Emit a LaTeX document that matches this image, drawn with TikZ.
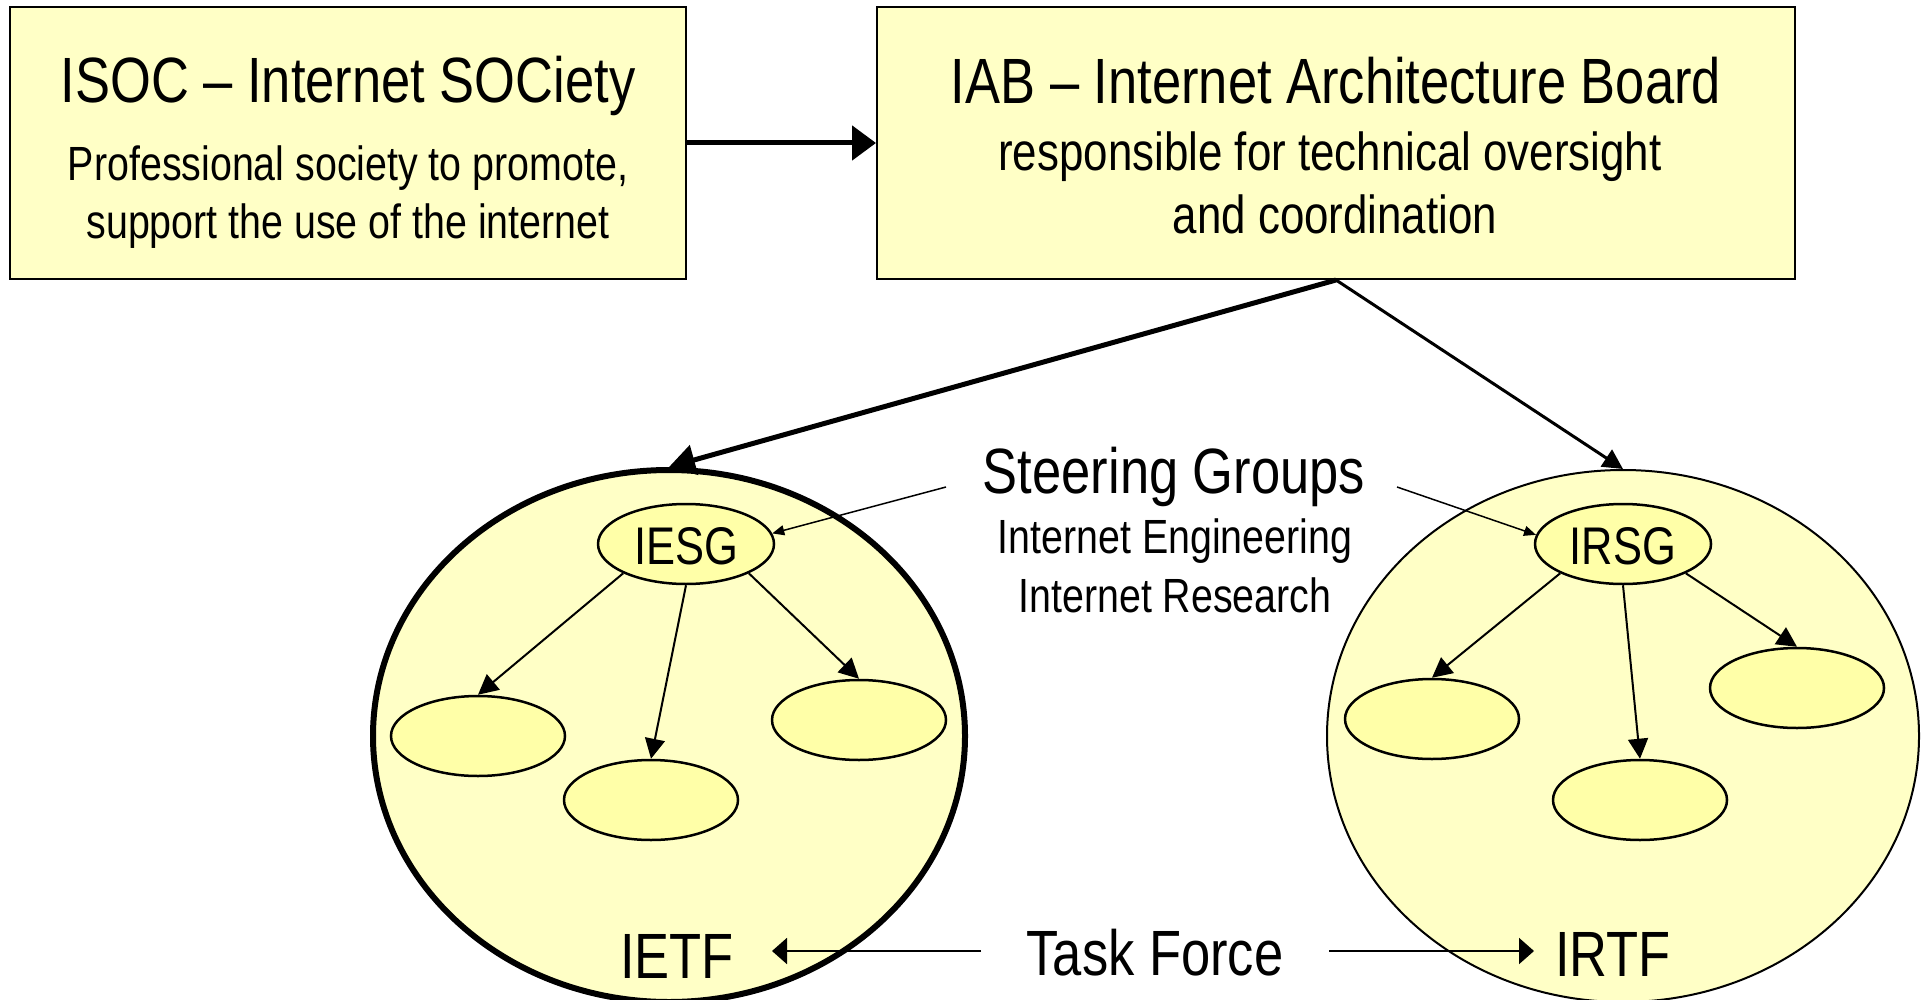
\documentclass[tikz,border=0pt]{standalone}
\usepackage{fontspec}
\setmainfont{Liberation Sans}[FakeStretch=0.82]
\usetikzlibrary{arrows.meta,shapes.geometric}
\definecolor{boxfill}{HTML}{FFFFC6}
\definecolor{subfill}{HTML}{FFFFA8}
\newcommand{\ftitle}{\fontsize{64pt}{70pt}\selectfont}
\newcommand{\fsub}{\fontsize{48pt}{54pt}\selectfont}
\newcommand{\fsubb}{\fontsize{53.5pt}{58pt}\selectfont}
\newcommand{\fsg}{\fontsize{53pt}{58pt}\selectfont}
\begin{document}
\begin{tikzpicture}[x=1pt,y=-1pt,
  orgbox/.style={draw, line width=2pt, fill=boxfill, rectangle, inner sep=0pt},
  bigcirc/.style={draw, ellipse, fill=boxfill, inner sep=0pt},
  grp/.style={draw, ellipse, line width=2.5pt, fill=subfill, inner sep=0pt, minimum width=174pt, minimum height=80pt},
  lbl/.style={anchor=base, inner sep=0pt},
  inarrow/.style={line width=2pt, -{Triangle[length=20pt,width=20pt]}},
  sgarrow/.style={line width=1.5pt, -{Triangle[length=12pt,width=10pt]}},
  tfarrow/.style={line width=2pt, -{Triangle[length=15pt,width=26pt]}}
]
\useasboundingbox (0,0) rectangle (1921,1000);
\fill[white] (0,0) rectangle (1921,1000);

% top boxes
\node[orgbox, minimum width=676pt, minimum height=272pt] (isoc) at (348,143) {};
\node[orgbox, minimum width=918pt, minimum height=272pt] (iab) at (1336,143) {};
\node[lbl, font=\ftitle] (isoct) at (348,103) {ISOC -- Internet SOCiety};
\node[lbl, font=\fsub] (isoc1) at (348,181) {Professional society to promote,};
\node[lbl, font=\fsub] (isoc2) at (348,239) {support the use of the internet};
\node[lbl, font=\ftitle] (iabt) at (1336,104) {IAB -- Internet Architecture Board};
\node[lbl, font=\fsubb] (iab1) at (1330,171) {responsible for technical oversight};
\node[lbl, font=\fsubb] (iab2) at (1335,234) {and coordination};

\draw[line width=5pt, -{Triangle[length=24pt,width=34pt]}] (isoc.east) -- (iab.west);

% big circles
\node[bigcirc, line width=6pt, minimum width=592pt, minimum height=532pt] (ietf) at (669,736) {};
\node[bigcirc, line width=2pt, minimum width=592pt, minimum height=532pt] (irtf) at (1623,736) {};

\draw[line width=5pt, -{Triangle[length=26pt,width=30pt]}] (iab.south) -- (ietf.north);
\draw[line width=3pt, -{Triangle[length=20pt,width=20pt]}] (iab.south) -- (irtf.north);

% steering groups
\node[grp, minimum width=176pt] (iesg) at (686,544) {};
\node[lbl, font=\fsg] (iesgt) at (686,564) {IESG};
\node[grp, minimum width=176pt] (irsg) at (1623,544) {};
\node[lbl, font=\fsg] (irsgt) at (1623,564) {IRSG};

% working groups
\node[grp] (e1) at (478,736) {};
\node[grp] (e2) at (651,800) {};
\node[grp] (e3) at (859,720) {};
\node[grp] (f1) at (1432,719) {};
\node[grp] (f2) at (1640,800) {};
\node[grp] (f3) at (1797,688) {};

\draw[inarrow] (iesg.205) -- (e1.north);
\draw[inarrow] (iesg.south) -- (e2.north);
\draw[inarrow] (iesg.335) -- (e3.north);
\draw[inarrow] (irsg.205) -- (f1.north);
\draw[inarrow] (irsg.south) -- (f2.north);
\draw[inarrow] (irsg.335) -- (f3.north);

% steering text
\node[lbl, font=\ftitle] (steer) at (1174,493) {Steering Groups};
\node[lbl, font=\fsub] (sgeng) at (1175,553) {Internet Engineering};
\node[lbl, font=\fsub] (sgres) at (1175,612) {Internet Research};
\coordinate (sgl) at (946,487);
\coordinate (sgr) at (1397,487);
\draw[sgarrow] (sgl) -- (iesg.7);
\draw[sgarrow] (sgr) -- (irsg.174);

% task force
\node[lbl, font=\ftitle] (tf) at (1155,975) {Task Force};
\node[lbl, font=\ftitle] (ietft) at (677,978) {IETF};
\node[lbl, font=\ftitle] (irtft) at (1613,976) {IRTF};
\coordinate (tfl) at (981,951);
\coordinate (tfr) at (1329,951);
\coordinate (ietfin) at (772,951);
\coordinate (irtfin) at (1534,951);
\draw[tfarrow] (tfl) -- (ietfin);
\draw[tfarrow] (tfr) -- (irtfin);
\end{tikzpicture}
\end{document}
